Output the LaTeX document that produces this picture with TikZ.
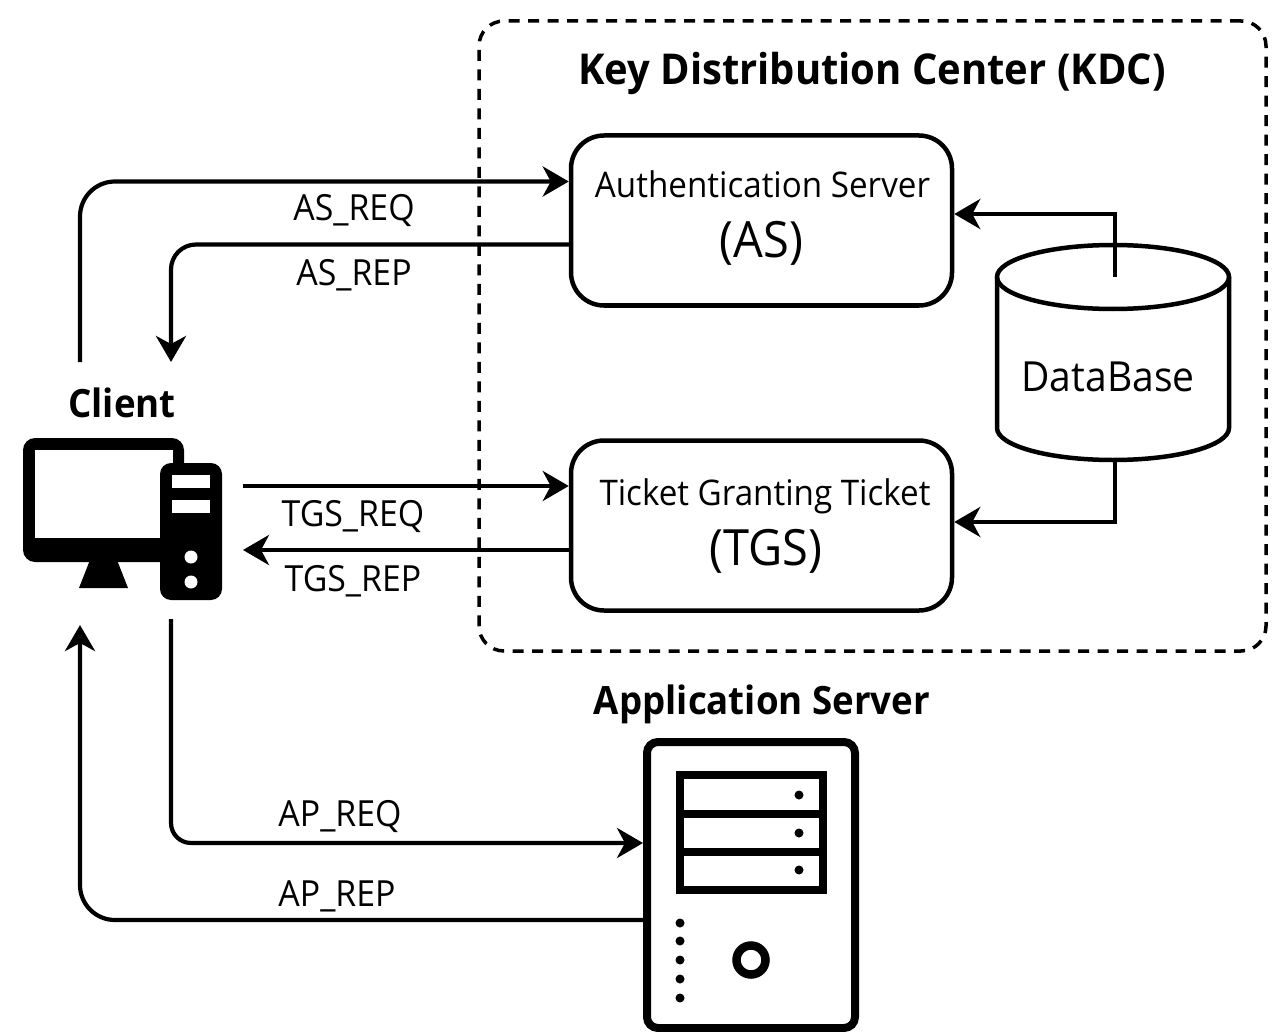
\documentclass[tikz,border=0pt]{standalone}
\usepackage{fontspec}
\setmainfont[FakeStretch=0.94]{Open Sans}
\usetikzlibrary{arrows.meta,calc}
\tikzset{
  conn/.style={line width=4.2pt,-{Stealth[length=26pt,width=30pt,inset=8pt]}},
  box/.style={draw,line width=4.5pt,rounded corners=33pt,minimum width=381pt,minimum height=170pt,inner sep=0pt},
  msg/.style={font=\fontsize{36}{40}\selectfont,inner sep=0pt},
  boxtitle/.style={font=\fontsize{35.3}{40}\selectfont,inner sep=0pt},
  boxabbr/.style={font=\fontsize{50}{55}\selectfont,inner sep=0pt},
  heading/.style={font=\fontsize{39}{44}\selectfont\bfseries,inner sep=0pt},
  iconline/.style={line width=8pt},
  iconfill/.style={fill=black,draw=none}
}
\begin{document}
\begin{tikzpicture}[x=1pt,y=-1pt]
\useasboundingbox (0,0) rectangle (1274,1032);
% KDC
\node[draw,dashed,line width=3.5pt,dash pattern=on 11pt off 8.5pt,rounded corners=25pt,minimum width=787pt,minimum height=630pt,inner sep=0pt] (kdc) at (872.5,336) {};
\node[heading,font=\fontsize{42.5}{47}\selectfont\bfseries] (kdctitle) at (872,73) {Key Distribution Center (KDC)};
% servers
\node[box] (as) at (761.5,220.5) {};
\node[box] (tgs) at (761.5,525.5) {};
\node[boxtitle] (astitle) at (762.5,184) {Authentication Server};
\node[boxabbr] (asabbr) at (761.5,243) {(AS)};
\node[boxtitle] (tgstitle) at (765,496) {Ticket Granting Ticket};
\node[boxabbr] (tgsabbr) at (766,551) {(TGS)};
% database
\draw[line width=4.5pt] (997,277) -- (997,428) arc[start angle=180,end angle=360,x radius=116,y radius=-32] -- (1229,277);
\draw[line width=4.5pt] (1113,277) ellipse[x radius=116,y radius=32];
\coordinate (dbin) at (1115,277);
\coordinate (dbout) at (1115,460);
\node[font=\fontsize{41.5}{46}\selectfont,inner sep=0pt] (dbtext) at (1108,377) {DataBase};
% client icon
\node[heading] (clienttext) at (122,403) {Client};
\fill[iconfill,rounded corners=12pt] (23,438) rectangle (184,562);
\fill[white] (35,450) rectangle (173,538);
\fill[iconfill] (90,560) -- (117,560) -- (128,588) -- (79,588) -- cycle;
\fill[iconfill,rounded corners=11pt] (160,463) rectangle (222,600);
\fill[white] (172,475) rectangle (210,488);
\fill[white] (172,500) rectangle (210,513);
\fill[white] (191,557) circle[radius=6.5];
\fill[white] (191,582) circle[radius=6.5];
\coordinate (cltop1) at (80,362);
\coordinate (cltop2) at (171,362);
\coordinate (clright1) at (243,486);
\coordinate (clright2) at (243,550);
\coordinate (clbot1) at (171,619);
\coordinate (clbot2) at (80,625);
% application server
\node[heading] (apptext) at (762,704) {Application Server};
\node[draw,line width=8pt,rounded corners=11pt,minimum width=208pt,minimum height=286pt,inner sep=0pt] (app) at (751,885) {};
\draw[iconline] (680,775) rectangle (823,890);
\draw[line width=7.5pt] (680,814) -- (823,814) (680,852) -- (823,852);
\foreach \y in {795,833,870} \fill[iconfill] (799,\y) circle[radius=4.5];
\foreach \y in {923,941,960,979,998} \fill[iconfill] (680,\y) circle[radius=4.5];
\draw[line width=8.5pt] (751,960) circle[radius=14.5];
% connectors
\draw[conn,rounded corners=35pt] (cltop1) |- ([yshift=39pt]as.west);
\draw[conn,rounded corners=25pt] ([yshift=-24pt]as.west) -| (cltop2);
\draw[conn] (clright1) -- (clright1 -| tgs.west);
\draw[conn] (clright2 -| tgs.west) -- (clright2);
\draw[conn,rounded corners=20pt] (clbot1) |- ([yshift=42pt]app.west);
\draw[conn,rounded corners=35pt] ([yshift=-35pt]app.west) -| (clbot2);
\draw[conn,rounded corners=0pt] (dbin) |- ($(as.east)+(0,-6.5)$);
\draw[conn,rounded corners=0pt] (dbout) |- ($(tgs.east)+(0,-3.5)$);
% labels
\node[msg] (l1) at (354,211) {AS\_REQ};
\node[msg] (l2) at (354,275) {AS\_REP};
\node[msg] (l3) at (353,517) {TGS\_REQ};
\node[msg] (l4) at (353,581) {TGS\_REP};
\node[msg] (l5) at (340,816) {AP\_REQ};
\node[msg] (l6) at (337,896) {AP\_REP};
\end{tikzpicture}
\end{document}
